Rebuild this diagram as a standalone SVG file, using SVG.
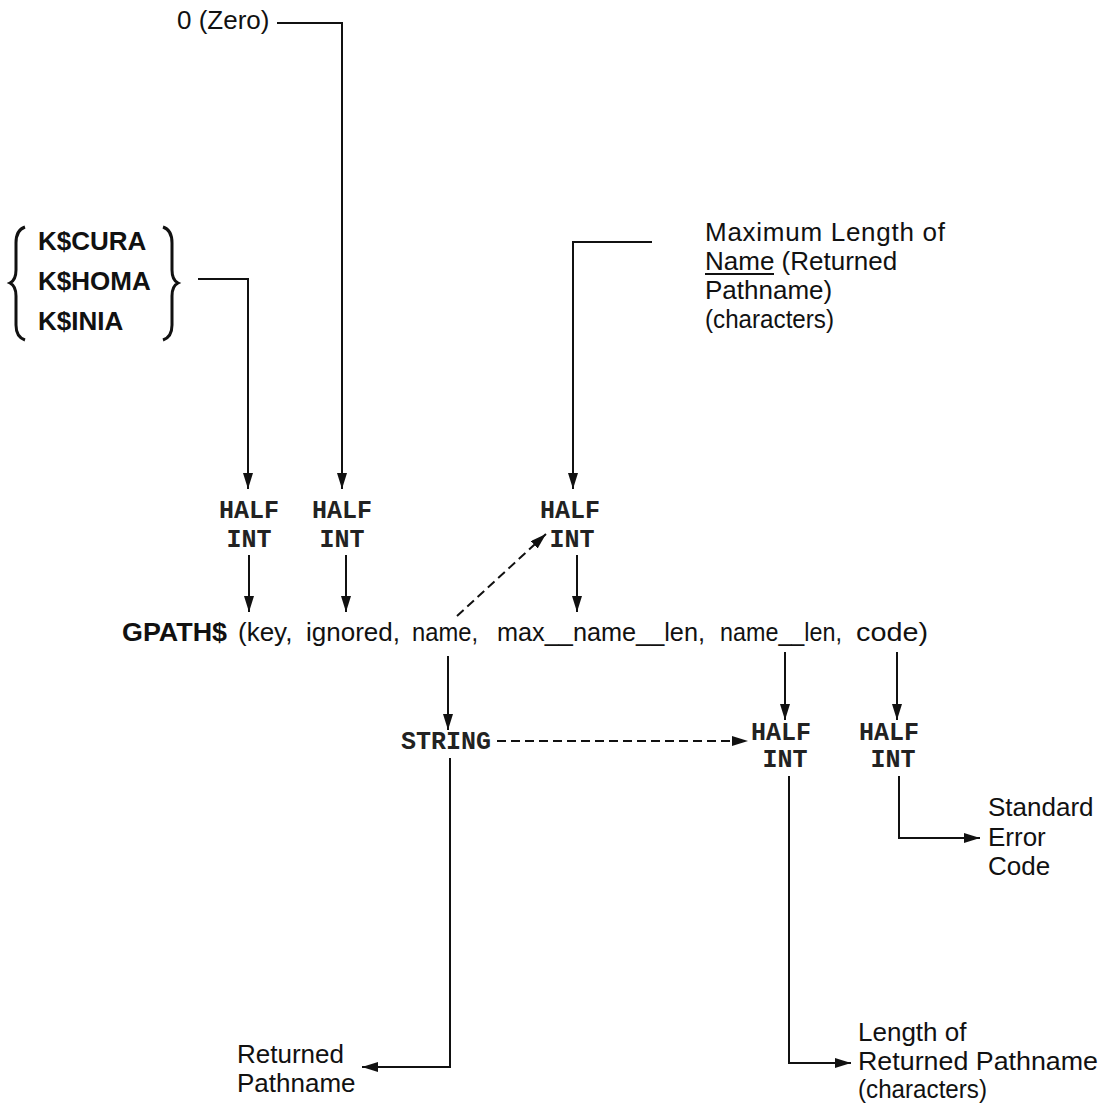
<svg xmlns="http://www.w3.org/2000/svg" width="1103" height="1104" viewBox="0 0 1103 1104">
<defs>
<style>
.s{font-family:"Liberation Sans",Arial,sans-serif;font-size:26px;fill:#111}
.b{font-family:"Liberation Sans",Arial,sans-serif;font-size:26px;font-weight:bold;fill:#111}
.m{font-family:"Liberation Mono","Courier New",monospace;font-size:25px;font-weight:bold;fill:#222;text-anchor:middle}
.ln{fill:none;stroke:#111;stroke-width:2}
.br{fill:none;stroke:#111;stroke-width:3}
.ar{fill:none;stroke:#111;stroke-width:2;marker-end:url(#ah)}
.da{fill:none;stroke:#111;stroke-width:2;stroke-dasharray:9 5;marker-end:url(#ah)}
</style>
<marker id="ah" viewBox="0 0 16 10" refX="16" refY="5" markerWidth="16" markerHeight="10" orient="auto" markerUnits="userSpaceOnUse"><path d="M0,0 L16,5 L0,10 z" fill="#111"/></marker>
</defs>
<rect width="1103" height="1104" fill="#fff"/>

<g id="zero"><text class="s" x="177" y="29">0 (Zero)</text></g>

<g id="kconst">
<path class="br" d="M25 227 Q16 230 16 243 L16 270 Q16 280 10 283 Q16 286 16 296 L16 325 Q16 337 25 340"/>
<text class="b" x="38" y="250">K$CURA</text>
<text class="b" x="38" y="290">K$HOMA</text>
<text class="b" x="38" y="330">K$INIA</text>
<path class="br" d="M163 227 Q172 230 172 243 L172 270 Q172 280 178 283 Q172 286 172 296 L172 325 Q172 337 163 340"/>
</g>

<g id="maxlen">
<text class="s" x="705" y="241" textLength="240" lengthAdjust="spacing">Maximum Length of</text>
<text class="s" x="705" y="270">Name (Returned</text>
<line class="ln" x1="705" y1="274" x2="774" y2="274"/>
<text class="s" x="705" y="299">Pathname)</text>
<text class="s" x="705" y="328" textLength="129" lengthAdjust="spacingAndGlyphs">(characters)</text>
</g>

<g id="half1"><text class="m" x="249" y="518">HALF</text><text class="m" x="249" y="547">INT</text></g>
<g id="half2"><text class="m" x="342" y="518">HALF</text><text class="m" x="342" y="547">INT</text></g>
<g id="half3"><text class="m" x="570" y="518">HALF</text><text class="m" x="572" y="547">INT</text></g>

<g id="gpath">
<text class="b" x="122" y="641" textLength="105" lengthAdjust="spacingAndGlyphs">GPATH$</text>
<text class="s" x="238" y="641">(key,</text>
<text class="s" x="306" y="641" textLength="94" lengthAdjust="spacingAndGlyphs">ignored,</text>
<text class="s" x="412" y="641" textLength="66" lengthAdjust="spacingAndGlyphs">name,</text>
<text class="s" x="497" y="641" textLength="208" lengthAdjust="spacingAndGlyphs">max__name__len,</text>
<text class="s" x="720" y="641" textLength="122" lengthAdjust="spacingAndGlyphs">name__len,</text>
<text class="s" x="856" y="641" textLength="72" lengthAdjust="spacingAndGlyphs">code)</text>
</g>

<g id="string"><text class="m" x="446" y="749">STRING</text></g>
<g id="half4"><text class="m" x="781" y="740">HALF</text><text class="m" x="785" y="767">INT</text></g>
<g id="half5"><text class="m" x="889" y="740">HALF</text><text class="m" x="893" y="767">INT</text></g>

<g id="stderr">
<text class="s" x="988" y="816">Standard</text>
<text class="s" x="988" y="846">Error</text>
<text class="s" x="988" y="875">Code</text>
</g>

<g id="retpath">
<text class="s" x="237" y="1063">Returned</text>
<text class="s" x="237" y="1092">Pathname</text>
</g>

<g id="lenret">
<text class="s" x="858" y="1041">Length of</text>
<text class="s" x="858" y="1070" textLength="240" lengthAdjust="spacingAndGlyphs">Returned Pathname</text>
<text class="s" x="858" y="1098" textLength="129" lengthAdjust="spacingAndGlyphs">(characters)</text>
</g>

<g id="connectors">
<path class="ar" d="M277 23 H342 V489"/>
<path class="ar" d="M198 279 H248 V489"/>
<path class="ar" d="M652 242 H573 V489"/>
<path class="ar" d="M249 555 V612"/>
<path class="ar" d="M346 555 V612"/>
<path class="ar" d="M577 555 V612"/>
<path class="da" d="M457 616 L546 534"/>
<path class="ar" d="M448 656 V730"/>
<path class="ar" d="M785 652 V720"/>
<path class="ar" d="M897 652 V720"/>
<path class="da" d="M497 741 H748"/>
<path class="ar" d="M450 758 V1067 H362"/>
<path class="ar" d="M789 776 V1063 H851"/>
<path class="ar" d="M899 776 V838 H980"/>
</g>
</svg>
